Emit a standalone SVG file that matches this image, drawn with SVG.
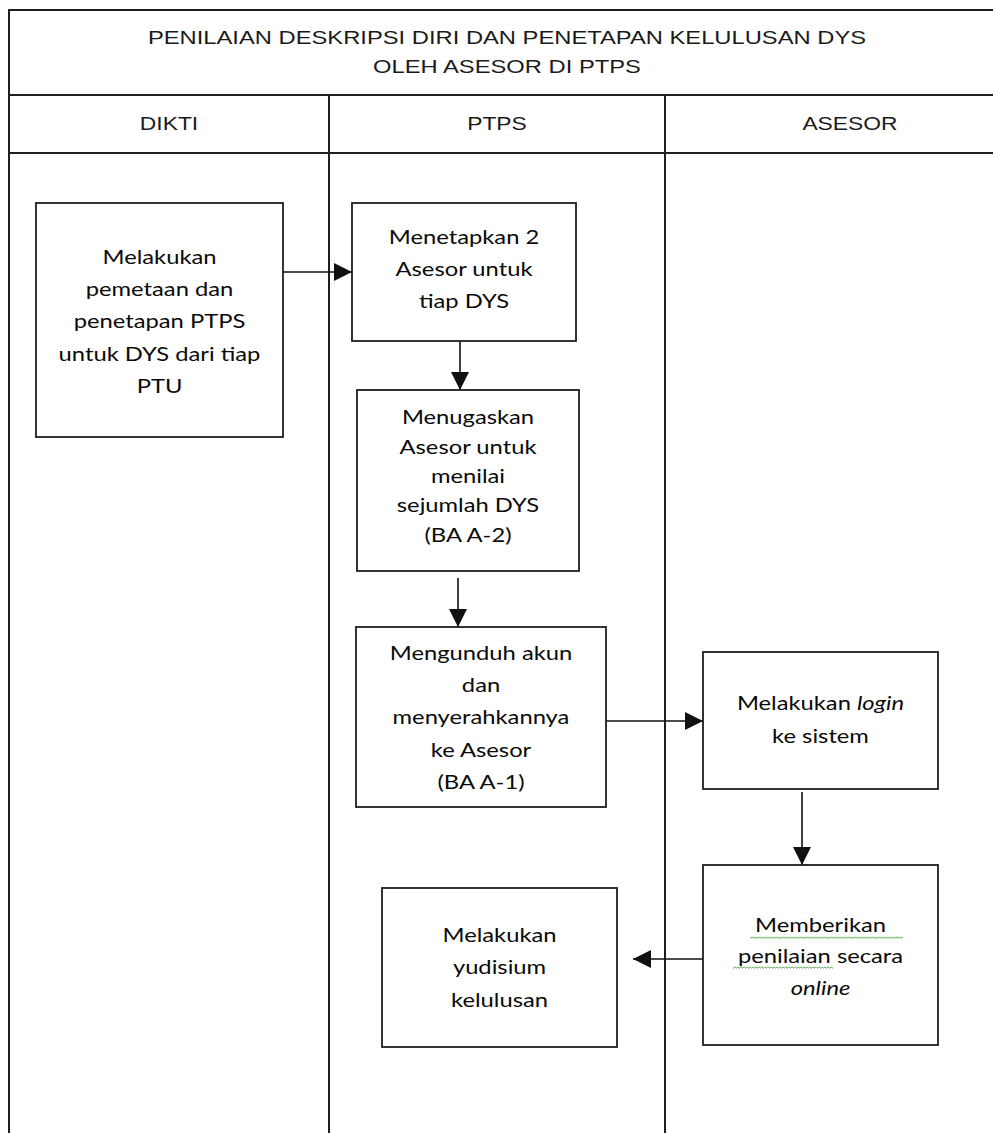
<svg xmlns="http://www.w3.org/2000/svg" width="993" height="1133" viewBox="0 0 993 1133">
<defs>
<style>
.frame{fill:none;stroke:#1e1e1e;stroke-width:2}
.box{fill:#fff;stroke:#1e1e1e;stroke-width:1.8}
.conn{fill:none;stroke:#111;stroke-width:1.6}
.hd{font-family:"Liberation Sans",Arial,sans-serif;font-size:18px;fill:#1a1a1a;text-anchor:middle}
.bt{font-family:Lato,"Noto Sans",sans-serif;font-size:19px;fill:#0a0a0a;text-anchor:middle}
.it{font-style:italic}
</style>
<marker id="ah" markerUnits="userSpaceOnUse" markerWidth="18" markerHeight="18" refX="18" refY="9" orient="auto">
<path d="M0,0 L18,9 L0,18 Z" fill="#111"/>
</marker>
<pattern id="wavy" patternUnits="userSpaceOnUse" width="3" height="3">
<path d="M0,0.6 L1.5,2.4 L3,0.6" fill="none" stroke="#4a9d3a" stroke-width="0.9"/>
</pattern>
</defs>
<rect width="993" height="1133" fill="#fff"/>

<g id="frame">
<rect class="frame" x="9" y="10" width="1100" height="1200"/>
<line class="frame" x1="9" y1="95" x2="993" y2="95"/>
<line class="frame" x1="9" y1="153" x2="993" y2="153"/>
<line class="frame" x1="329" y1="95" x2="329" y2="1133"/>
<line class="frame" x1="665" y1="95" x2="665" y2="1133"/>
</g>

<g id="title">
<text class="hd" transform="translate(507 0) scale(1.32 1)"><tspan x="0" y="44">PENILAIAN DESKRIPSI DIRI DAN PENETAPAN KELULUSAN DYS</tspan><tspan x="0" y="73">OLEH ASESOR DI PTPS</tspan></text>
</g>
<g id="lane-dikti"><text class="hd" transform="translate(169 0) scale(1.27 1)" x="0" y="130">DIKTI</text></g>
<g id="lane-ptps"><text class="hd" transform="translate(497 0) scale(1.27 1)" x="0" y="130">PTPS</text></g>
<g id="lane-asesor"><text class="hd" transform="translate(850 0) scale(1.27 1)" x="0" y="130">ASESOR</text></g>

<g id="connectors">
<line class="conn" x1="283" y1="272" x2="352" y2="272" marker-end="url(#ah)"/>
<line class="conn" x1="460" y1="341" x2="460" y2="390" marker-end="url(#ah)"/>
<line class="conn" x1="458" y1="578" x2="458" y2="627" marker-end="url(#ah)"/>
<line class="conn" x1="606" y1="721" x2="703" y2="721" marker-end="url(#ah)"/>
<line class="conn" x1="802" y1="792" x2="802" y2="865" marker-end="url(#ah)"/>
<line class="conn" x1="704" y1="959" x2="633" y2="959" marker-end="url(#ah)"/>
</g>

<g id="n1">
<rect class="box" x="36" y="203" width="247" height="234"/>
<text class="bt" transform="translate(159.5 0) scale(1.25 1)"><tspan x="0" y="264">Melakukan</tspan><tspan x="0" y="296">pemetaan dan</tspan><tspan x="0" y="328.5">penetapan PTPS</tspan><tspan x="0" y="361">untuk DYS dari tiap</tspan><tspan x="0" y="393">PTU</tspan></text>
</g>

<g id="n2">
<rect class="box" x="352" y="203" width="224" height="138"/>
<text class="bt" transform="translate(464 0) scale(1.25 1)"><tspan x="0" y="244">Menetapkan 2</tspan><tspan x="0" y="276">Asesor untuk</tspan><tspan x="0" y="308">tiap DYS</tspan></text>
</g>

<g id="n3">
<rect class="box" x="357" y="390" width="222" height="181"/>
<text class="bt" transform="translate(468 0) scale(1.25 1)"><tspan x="0" y="424">Menugaskan</tspan><tspan x="0" y="454">Asesor untuk</tspan><tspan x="0" y="483">menilai</tspan><tspan x="0" y="512.5">sejumlah DYS</tspan><tspan x="0" y="542">(BA A-2)</tspan></text>
</g>

<g id="n4">
<rect class="box" x="356" y="627" width="250" height="180"/>
<text class="bt" transform="translate(481 0) scale(1.25 1)"><tspan x="0" y="660">Mengunduh akun</tspan><tspan x="0" y="692">dan</tspan><tspan x="0" y="724.5">menyerahkannya</tspan><tspan x="0" y="757">ke Asesor</tspan><tspan x="0" y="789">(BA A-1)</tspan></text>
</g>

<g id="n5">
<rect class="box" x="703" y="652" width="235" height="137"/>
<text class="bt" transform="translate(820.5 0) scale(1.25 1)"><tspan x="0" y="710">Melakukan <tspan class="it">login</tspan></tspan><tspan x="0" y="743">ke sistem</tspan></text>
</g>

<g id="n6">
<rect class="box" x="703" y="865" width="235" height="180"/>
<rect x="750" y="936" width="153" height="3" fill="url(#wavy)"/>
<rect x="733" y="966" width="100" height="3" fill="url(#wavy)"/>
<text class="bt" transform="translate(820.5 0) scale(1.25 1)"><tspan x="0" y="932">Memberikan</tspan><tspan x="0" y="963">penilaian secara</tspan><tspan x="0" y="995" class="it">online</tspan></text>
</g>

<g id="n7">
<rect class="box" x="382" y="888" width="235" height="159"/>
<text class="bt" transform="translate(499.5 0) scale(1.25 1)"><tspan x="0" y="942">Melakukan</tspan><tspan x="0" y="974">yudisium</tspan><tspan x="0" y="1007">kelulusan</tspan></text>
</g>
</svg>
